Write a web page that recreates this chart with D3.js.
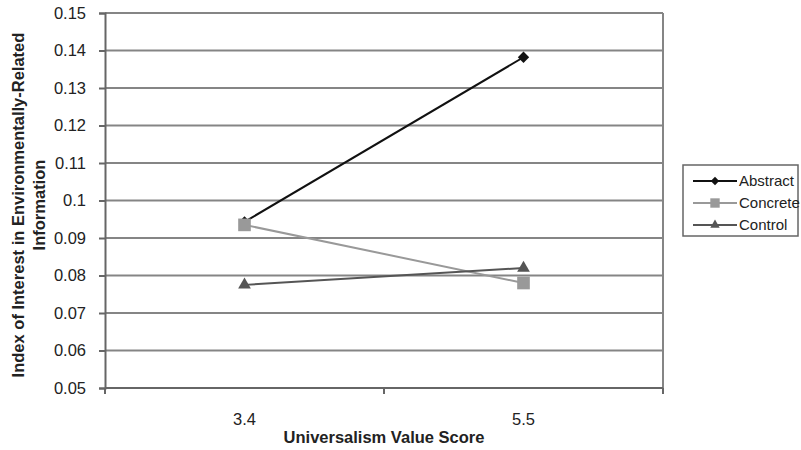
<!DOCTYPE html>
<html>
<head>
<meta charset="utf-8">
<script src="https://cdn.jsdelivr.net/npm/d3@7"></script>
<style>
  body { margin: 0; background: #fff; }
  svg { display: block; font-family: "Liberation Sans", Arial, sans-serif; }
</style>
</head>
<body>
<svg id="chart" width="801" height="450"></svg>
<script>
// Universalism value score groups on the x axis
const categories = ["3.4", "5.5"];
// Index of interest for each message condition
const abstractValues = [0.0943, 0.1382];
const concreteValues = [0.0935, 0.0780];
const controlValues  = [0.0775, 0.0820];
const yTicks = [0.05, 0.06, 0.07, 0.08, 0.09, 0.1, 0.11, 0.12, 0.13, 0.14, 0.15];

const series = [
  { name: "Abstract", values: abstractValues, color: "#111111", shape: d3.symbolSquare, size: 64, rotate: 45 },
  { name: "Concrete", values: concreteValues, color: "#999999", shape: d3.symbolSquare, size: 160, rotate: 0 },
  { name: "Control",  values: controlValues,  color: "#555555", shape: d3.symbolTriangle, size: 70, rotate: 0 }
];

const svg = d3.select("#chart");
const plotLeft = 105, plotRight = 663, plotTop = 13, plotBottom = 388;

const x = d3.scaleBand().domain(categories).range([plotLeft, plotRight]);
const y = d3.scaleLinear().domain([0.05, 0.15]).range([plotBottom, plotTop]);
const xc = d => x(d) + x.bandwidth() / 2;

// horizontal gridlines
svg.append("g").selectAll("line").data(yTicks.slice(1)).join("line")
  .attr("x1", plotLeft).attr("x2", plotRight)
  .attr("y1", d => y(d)).attr("y2", d => y(d))
  .attr("stroke", "#858585").attr("stroke-width", 2);

// right border of plot area
svg.append("line").attr("x1", plotRight).attr("x2", plotRight).attr("y1", plotTop).attr("y2", plotBottom)
  .attr("stroke", "#858585").attr("stroke-width", 2);

// y axis
const yAxis = svg.append("g").attr("transform", `translate(${plotLeft},0)`)
  .call(d3.axisLeft(y).tickValues(yTicks).tickSize(6).tickPadding(13)
    .tickFormat(d => String(+d.toFixed(2))));
yAxis.select(".domain").attr("stroke", "#666").attr("stroke-width", 2);
yAxis.selectAll(".tick line").attr("stroke", "#666").attr("stroke-width", 2);
yAxis.selectAll("text").attr("font-size", 16.5).attr("fill", "#222");

// x axis with ticks at band edges
const xAxisG = svg.append("g").attr("transform", `translate(0,${plotBottom})`);
xAxisG.append("line").attr("x1", plotLeft).attr("x2", plotRight).attr("y1", 0).attr("y2", 0)
  .attr("stroke", "#666").attr("stroke-width", 2);
const edges = [plotLeft].concat(categories.map(c => x(c) + x.bandwidth()));
xAxisG.selectAll(".edge").data(edges).join("line").attr("class", "edge")
  .attr("x1", d => d).attr("x2", d => d).attr("y1", 0).attr("y2", 6)
  .attr("stroke", "#666").attr("stroke-width", 2);
xAxisG.selectAll(".cat").data(categories).join("text").attr("class", "cat")
  .attr("x", d => xc(d)).attr("y", 37)
  .attr("text-anchor", "middle").attr("font-size", 16.5).attr("fill", "#222")
  .text(d => d);

// axis titles
svg.append("text").attr("x", 384).attr("y", 443)
  .attr("text-anchor", "middle").attr("font-size", 16.5).attr("font-weight", "bold").attr("fill", "#222")
  .text("Universalism Value Score");
const yt = svg.append("text").attr("transform", `translate(24,205) rotate(-90)`)
  .attr("text-anchor", "middle").attr("font-size", 16.5).attr("font-weight", "bold").attr("fill", "#222");
yt.append("tspan").attr("x", 0).attr("dy", 0).text("Index of Interest in Environmentally-Related");
yt.append("tspan").attr("x", 0).attr("dy", 21).text("Information");

// series lines and markers
const line = d3.line().x((d, i) => xc(categories[i])).y(d => y(d));
series.forEach(s => {
  svg.append("path").datum(s.values).attr("d", line)
    .attr("fill", "none").attr("stroke", s.color).attr("stroke-width", 2);
});
series.forEach(s => {
  svg.append("g").selectAll("path").data(s.values).join("path")
    .attr("transform", (d, i) => `translate(${xc(categories[i])},${y(d)}) rotate(${s.rotate})`)
    .attr("d", d3.symbol().type(s.shape).size(s.size))
    .attr("fill", s.color);
});

// legend
const lg = svg.append("g");
lg.append("rect").attr("x", 683).attr("y", 165).attr("width", 115).attr("height", 71)
  .attr("fill", "#fff").attr("stroke", "#666").attr("stroke-width", 1.5);
series.forEach((s, i) => {
  const ly = 181 + i * 22;
  lg.append("line").attr("x1", 693).attr("x2", 737).attr("y1", ly).attr("y2", ly)
    .attr("stroke", s.color).attr("stroke-width", 2);
  lg.append("path").attr("transform", `translate(715,${ly}) rotate(${s.rotate})`)
    .attr("d", d3.symbol().type(s.shape).size(s.size * 0.55)).attr("fill", s.color);
  lg.append("text").attr("x", 739).attr("y", ly + 5).attr("font-size", 15).attr("fill", "#222")
    .text(s.name);
});
</script>
</body>
</html>
